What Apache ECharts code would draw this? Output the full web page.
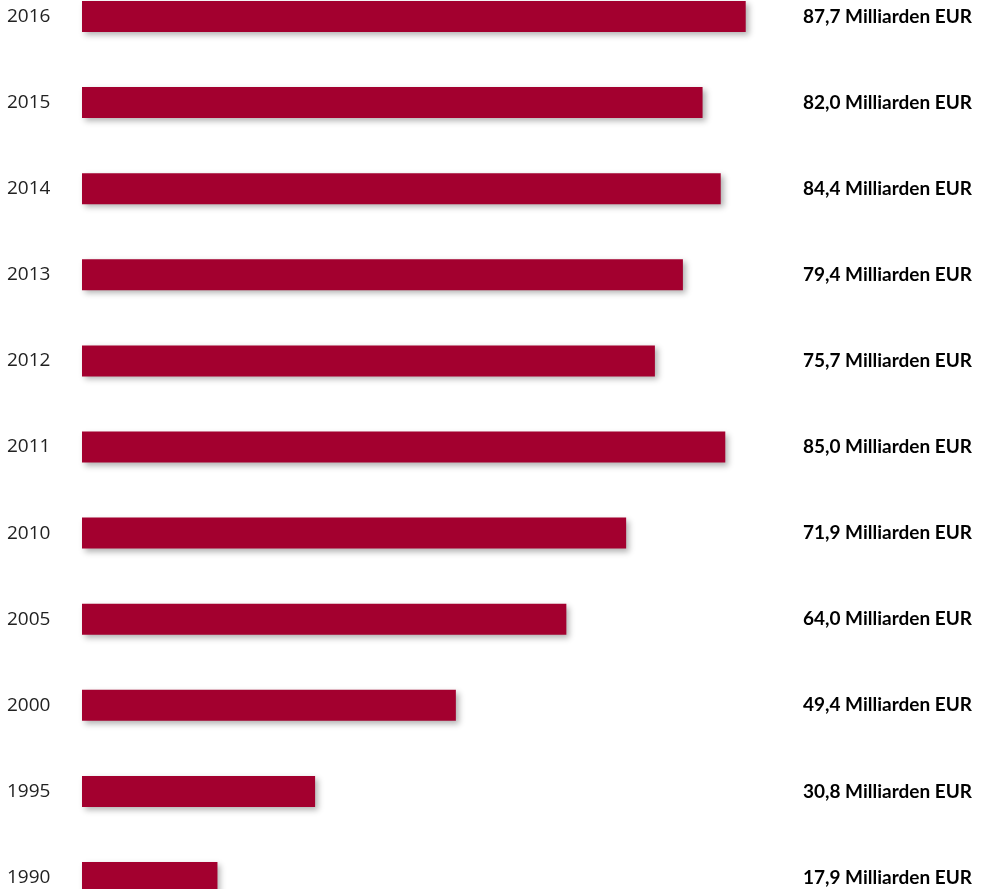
<!DOCTYPE html>
<html><head><meta charset="utf-8">
<script src="https://cdn.jsdelivr.net/npm/echarts@6/dist/echarts.min.js"></script>
<style>html,body{margin:0;padding:0;background:#fff}#c{width:987px;height:889px}</style>
</head><body><div id="c"></div>
<script>
var years = ['1990','1995','2000','2005','2010','2011','2012','2013','2014','2015','2016'];
var values = [17.9, 30.8, 49.4, 64.0, 71.9, 85.0, 75.7, 79.4, 84.4, 82.0, 87.7];
var unit = ' Milliarden EUR';
function fmt(v){ return v.toFixed(1).replace('.', ',') + unit; }
var chart = echarts.init(document.getElementById('c'), null, {renderer:'canvas'});
chart.setOption({
  animation:false,
  grid:{left:82, right:15, top:16.5, bottom:11.5, containLabel:false},
  xAxis:{type:'value', min:0, max:117.6, show:false},
  yAxis:[{
    type:'category', data:years, position:'left', boundaryGap:false,
    axisLine:{show:false}, axisTick:{show:false}, splitLine:{show:false},
    axisLabel:{align:'left', margin:75, color:'#222', fontSize:19, fontFamily:'Open Sans', padding:[4,0,0,0]}
  },{
    type:'category', data:years, position:'right', boundaryGap:false,
    axisLine:{show:false}, axisTick:{show:false}, splitLine:{show:false},
    axisLabel:{align:'right', margin:0, color:'#000', fontSize:19, fontWeight:'bold', fontFamily:'Lato', padding:[4,0,0,0],
      formatter:function(v, i){ return fmt(values[i]); }}
  }],
  series:[{
    type:'bar', data:values, barWidth:31, yAxisIndex:0, clip:false,
    itemStyle:{color:'#A3002F', shadowBlur:6, shadowOffsetX:3, shadowOffsetY:3, shadowColor:'rgba(0,0,0,0.3)'}
  }]
});
</script></body></html>
